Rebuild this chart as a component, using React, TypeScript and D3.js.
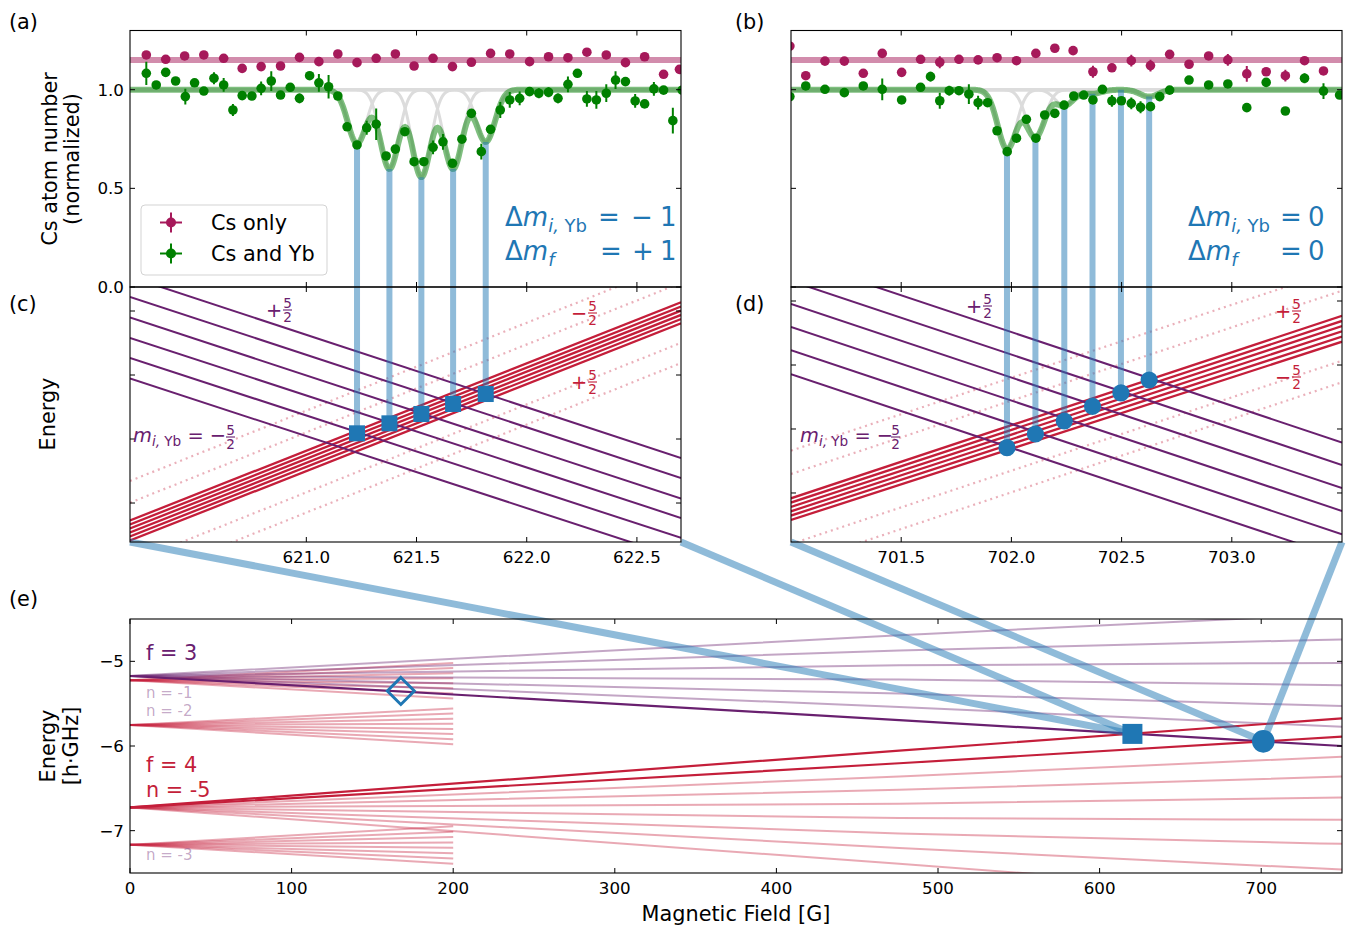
import React from "react";
import * as d3 from "d3";

const FONT = "DejaVu Sans, Verdana, sans-serif";
const PURPLE = "#69206f";
const RED = "#c41e3a";
const MAGENTA = "#a6195a";
const GREEN = "#008000";
const BLUE = "#1f77b4";

// ---------------- data ----------------
// (a) Cs only near 621.5 G : [B (G), N (normalized), err]
const csOnlyA = [
  [620.274, 1.176, 0.01], [620.362, 1.154, 0.01], [620.448, 1.171, 0.01], [620.535, 1.176, 0.01],
  [620.625, 1.159, 0.01], [620.709, 1.108, 0.01], [620.795, 1.117, 0.01], [620.883, 1.12, 0.01],
  [620.969, 1.164, 0.01], [621.057, 1.142, 0.01], [621.143, 1.181, 0.01], [621.23, 1.137, 0.01],
  [621.317, 1.159, 0.01], [621.404, 1.181, 0.01], [621.489, 1.12, 0.01], [621.575, 1.159, 0.01],
  [621.663, 1.117, 0.01], [621.749, 1.139, 0.01], [621.836, 1.184, 0.01], [621.923, 1.181, 0.01],
  [622.013, 1.142, 0.01], [622.099, 1.167, 0.01], [622.187, 1.162, 0.01], [622.273, 1.19, 0.01],
  [622.361, 1.176, 0.01], [622.448, 1.137, 0.01], [622.535, 1.167, 0.01], [622.621, 1.078, 0.01],
  [622.693, 1.103, 0.01],
];

// (a) Cs and Yb
const csYbA = [
  [620.274, 1.083, 0.059], [620.319, 1.024, 0.015], [620.362, 1.088, 0.015], [620.407, 1.044, 0.015],
  [620.451, 0.965, 0.04], [620.493, 1.035, 0.015], [620.535, 0.993, 0.015], [620.581, 1.058, 0.03],
  [620.625, 1.024, 0.035], [620.667, 0.897, 0.03], [620.709, 0.97, 0.015], [620.753, 0.968, 0.015],
  [620.795, 1.007, 0.035], [620.841, 1.044, 0.05], [620.883, 0.973, 0.015], [620.927, 1.012, 0.015],
  [620.969, 0.956, 0.025], [621.015, 1.071, 0.015], [621.057, 1.035, 0.045], [621.101, 1.015, 0.06],
  [621.143, 0.968, 0.015], [621.185, 0.812, 0.015], [621.23, 0.72, 0.015], [621.274, 0.807, 0.035],
  [621.317, 0.825, 0.08], [621.362, 0.664, 0.015], [621.404, 0.699, 0.015], [621.447, 0.787, 0.015],
  [621.489, 0.635, 0.015], [621.533, 0.635, 0.015], [621.575, 0.708, 0.035], [621.62, 0.736, 0.04],
  [621.663, 0.627, 0.015], [621.706, 0.749, 0.015], [621.749, 0.88, 0.015], [621.794, 0.686, 0.04],
  [621.836, 0.799, 0.015], [621.88, 0.897, 0.04], [621.923, 0.948, 0.04], [621.968, 0.956, 0.035],
  [622.013, 0.99, 0.015], [622.055, 0.982, 0.025], [622.099, 0.987, 0.025], [622.142, 0.956, 0.025],
  [622.187, 1.027, 0.04], [622.23, 1.083, 0.015], [622.273, 0.953, 0.04], [622.316, 0.948, 0.045],
  [622.361, 0.982, 0.045], [622.403, 1.049, 0.045], [622.448, 1.041, 0.015], [622.492, 0.943, 0.035],
  [622.535, 0.928, 0.015], [622.577, 1.004, 0.035], [622.621, 0.998, 0.015], [622.663, 0.843, 0.065],
  [622.705, 0.998, 0.015],
];

// (b) Cs only near 702 G
const csOnlyB = [
  [700.995, 1.221, 0.01], [701.067, 1.071, 0.01], [701.154, 1.145, 0.01], [701.242, 1.145, 0.01],
  [701.328, 1.083, 0.01], [701.414, 1.184, 0.01], [701.502, 1.088, 0.01], [701.588, 1.154, 0.01],
  [701.675, 1.139, 0.03], [701.762, 1.154, 0.01], [701.849, 1.151, 0.01], [701.935, 1.162, 0.01],
  [702.023, 1.147, 0.01], [702.111, 1.184, 0.01], [702.197, 1.21, 0.01], [702.28, 1.198, 0.01],
  [702.37, 1.091, 0.03], [702.456, 1.111, 0.01], [702.544, 1.147, 0.03], [702.631, 1.122, 0.03],
  [702.718, 1.179, 0.01], [702.806, 1.129, 0.01], [702.895, 1.171, 0.01], [702.982, 1.151, 0.03],
  [703.068, 1.08, 0.04], [703.156, 1.091, 0.01], [703.243, 1.071, 0.03], [703.33, 1.147, 0.01],
  [703.416, 1.095, 0.01],
];

// (b) Cs and Yb
const csYbB = [
  [700.995, 0.965, 0.015], [701.067, 1.019, 0.015], [701.154, 1.002, 0.015], [701.242, 0.985, 0.015],
  [701.328, 1.019, 0.015], [701.414, 1.002, 0.055], [701.502, 0.948, 0.015], [701.588, 1.012, 0.015],
  [701.633, 1.066, 0.025], [701.675, 0.944, 0.04], [701.718, 0.995, 0.025], [701.762, 0.995, 0.015],
  [701.807, 0.977, 0.05], [701.849, 0.934, 0.035], [701.892, 0.934, 0.015], [701.935, 0.792, 0.015],
  [701.981, 0.686, 0.015], [702.023, 0.754, 0.015], [702.068, 0.85, 0.015], [702.111, 0.754, 0.015],
  [702.151, 0.872, 0.015], [702.197, 0.88, 0.015], [702.239, 0.922, 0.015], [702.283, 0.968, 0.015],
  [702.328, 0.973, 0.015], [702.37, 0.948, 0.015], [702.413, 1.002, 0.015], [702.456, 0.943, 0.03],
  [702.499, 0.944, 0.015], [702.544, 0.931, 0.03], [702.586, 0.911, 0.03], [702.631, 0.914, 0.015],
  [702.673, 0.965, 0.015], [702.718, 0.998, 0.015], [702.806, 1.049, 0.015], [702.895, 1.024, 0.015],
  [702.982, 1.029, 0.015], [703.068, 0.909, 0.015], [703.156, 1.037, 0.015], [703.243, 0.892, 0.015],
  [703.33, 1.058, 0.025], [703.416, 0.993, 0.04], [703.489, 0.973, 0.015],
];

const csOnlyLevel = 1.15;
const fitSigma = 0.042;

// resonances: field, fitted loss amplitude, energy in (c)/(d)
const resFieldA = [621.23, 621.377, 621.522, 621.666, 621.814];
const resAmpA = [0.272, 0.4, 0.441, 0.4, 0.264];
const resEnergyC = [1.089, 1.245, 1.391, 1.547, 1.703];
const resFieldB = [701.98, 702.109, 702.24, 702.368, 702.497, 702.625];
const resAmpB = [0.3, 0.24, 0.08, 0.02, 0.0, 0.035];
const resEnergyD = [0.708, 0.922, 1.125, 1.355, 1.564, 1.766];

// (c) levels: [E at 620.2 G, E at 622.7 G]
const yStatesC = [[3.534, 0.703], [3.22, 0.392], [2.898, 0.07], [2.58, -0.233], [2.267, -0.545], [1.945, -0.867]];
const csStatesC = [[-0.273, 3.136], [-0.336, 3.07], [-0.398, 3.005], [-0.461, 2.939], [-0.523, 2.873], [-0.586, 2.808]];
const dottedC = [[0.344, 3.778], [0.005, 3.439], [-0.933, 2.502], [-1.25, 2.188]];
// (d) levels: [E at 701.0 G, E at 703.5 G]
const yStatesD = [[3.664, 0.789], [3.313, 0.438], [2.953, 0.078], [2.594, -0.281], [2.23, -0.645], [1.855, -1.02]];
const csStatesD = [[-0.083, 2.77], [-0.15, 2.689], [-0.219, 2.608], [-0.286, 2.527], [-0.353, 2.445], [-0.422, 2.364]];
const dottedD = [[0.661, 3.511], [0.297, 3.161], [-0.797, 2.067], [-1.136, 1.73]];

// (e) thresholds, energies at these fields
const levelFields = [0, 476, 750];
const f3Start = -5.173;
const f3Mid = [-4.692, -4.871, -5.047, -5.215, -5.38, -5.538, -5.694];
const f3End = [-4.44, -4.741, -5.02, -5.282, -5.529, -5.773, -6.0];
const f4Start = -6.726;
const f4Mid = [-6.055, -6.204, -6.361, -6.518, -6.682, -6.851, -7.032, -7.204, -7.392];
const f4End = [-5.674, -5.89, -6.126, -6.361, -6.608, -6.871, -7.156, -7.459, -7.78];
const fanFields = [0, 200];
const fanStart = [-5.224, -5.753, -7.165];
const fanEnd = [
  [-5.02, -5.08, -5.14, -5.199, -5.259, -5.319, -5.379, -5.439],
  [-5.556, -5.616, -5.678, -5.738, -5.799, -5.859, -5.919, -5.98],
  [-6.949, -7.013, -7.075, -7.139, -7.202, -7.266, -7.328, -7.392],
];
const crossSquare = [620.3, -5.857];
const crossCircle = [701.3, -5.945];
const openDiamond = [167.6, -5.35];

const ticksA = [621.0, 621.5, 622.0, 622.5];
const ticksB = [701.5, 702.0, 702.5, 703.0];
const ticksN = [0, 0.5, 1.0];
const ticksEnergy = [0, 1, 2, 3];
const ticksFieldE = [0, 100, 200, 300, 400, 500, 600, 700];
const ticksEnergyE = [-7, -6, -5];

// ---------------- scales ----------------
type Sc = d3.ScaleLinear<number, number>;
const xA = d3.scaleLinear().domain([620.2, 622.7]).range([130, 681]);
const xB = d3.scaleLinear().domain([701.0, 703.5]).range([791, 1342]);
const yN = d3.scaleLinear().domain([0, 1.3]).range([287, 30.5]);
const yC = d3.scaleLinear().domain([-0.609, 3.375]).range([542, 287]);
const yD = d3.scaleLinear().domain([-0.766, 3.219]).range([542, 287]);
const xE = d3.scaleLinear().domain([0, 750]).range([130, 1342]);
const yE = d3.scaleLinear().domain([-7.5, -4.5]).range([873, 619]);

const line = d3.line<[number, number]>();
const smooth = d3.line<[number, number]>().curve(d3.curveMonotoneX);

const gauss = (b: number, c: number) => Math.exp(-((b - c) ** 2) / (2 * fitSigma * fitSigma));
const fitValue = (b: number, centers: number[], amps: number[]) =>
  1 - centers.reduce((s, c, k) => s + amps[k] * gauss(b, c), 0);

const fmt1 = d3.format(".1f");
const minus = (v: number) => String(v).replace("-", "\u2212");

function Frame({ x, y, xt, yt, xLab, yLab }: { x: Sc; y: Sc; xt: number[]; yt: number[]; xLab?: (v: number) => string; yLab?: (v: number) => string }) {
  const [x0, x1] = x.range();
  const [y1, y0] = y.range();
  return (
    <g>
      {xt.map((v) => (
        <g key={"x" + v} stroke="#000" strokeWidth={1}>
          <line x1={x(v)} x2={x(v)} y1={y1} y2={y1 - 5} />
          <line x1={x(v)} x2={x(v)} y1={y0} y2={y0 + 5} />
        </g>
      ))}
      {yt.map((v) => (
        <g key={"y" + v} stroke="#000" strokeWidth={1}>
          <line x1={x0} x2={x0 + 5} y1={y(v)} y2={y(v)} />
          <line x1={x1} x2={x1 - 5} y1={y(v)} y2={y(v)} />
        </g>
      ))}
      {xLab && xt.map((v) => (
        <text key={"xl" + v} x={x(v)} y={y1 + 21} textAnchor="middle" fontSize={16.7}>{xLab(v)}</text>
      ))}
      {yLab && yt.map((v) => (
        <text key={"yl" + v} x={x0 - 6} y={y(v) + 6} textAnchor="end" fontSize={16.7}>{yLab(v)}</text>
      ))}
      <rect x={x0} y={y0} width={x1 - x0} height={y1 - y0} fill="none" stroke="#000" strokeWidth={1.1} />
    </g>
  );
}

function Points({ data, x, color }: { data: number[][]; x: Sc; color: string }) {
  return (
    <g>
      {data.map(([b, n, e], i) => (
        <g key={i}>
          <line x1={x(b)} x2={x(b)} y1={yN(n - e)} y2={yN(n + e)} stroke={color} strokeWidth={2} />
          <circle cx={x(b)} cy={yN(n)} r={4.8} fill={color} />
        </g>
      ))}
    </g>
  );
}

function Frac({ x, y, sign, color }: { x: number; y: number; sign: string; color: string }) {
  const bx = x + (sign ? 17 : 0);
  return (
    <g fill={color}>
      {sign && <text x={x} y={y + 6.6} fontSize={19.4}>{sign}</text>}
      <text x={bx + 4.5} y={y - 2} fontSize={13.6} textAnchor="middle">5</text>
      <line x1={bx} x2={bx + 9} y1={y} y2={y} stroke={color} strokeWidth={1.1} />
      <text x={bx + 4.5} y={y + 12} fontSize={13.6} textAnchor="middle">2</text>
    </g>
  );
}

function MLabel({ x, y, fx }: { x: number; y: number; fx: number }) {
  return (
    <g fill={PURPLE}>
      <text x={x} y={y} fontSize={19.4}>
        <tspan fontStyle="italic">m</tspan>
        <tspan fontSize={13.6} dy={4} fontStyle="italic">i,</tspan>
        <tspan fontSize={13.6}> Yb</tspan>
        <tspan dy={-4}> = {"\u2212"}</tspan>
      </text>
      <Frac x={fx} y={y - 5} sign="" color={PURPLE} />
    </g>
  );
}

function DeltaText({ x, y, sub, eqX, rhs }: { x: number; y: number; sub: "iYb" | "f"; eqX: number; rhs: [number, string][] }) {
  return (
    <g fill={BLUE} fontSize={26}>
      <text x={x} y={y}>
        {"\u0394"}
        <tspan fontStyle="italic">m</tspan>
        {sub === "iYb" ? (
          <>
            <tspan fontSize={18} dy={6} fontStyle="italic">i,</tspan>
            <tspan fontSize={18}> Yb</tspan>
          </>
        ) : (
          <tspan fontSize={18} dy={6} fontStyle="italic">f</tspan>
        )}
      </text>
      <text x={eqX} y={y}>=</text>
      {rhs.map(([px, s]) => (
        <text key={px} x={px} y={y}>{s}</text>
      ))}
    </g>
  );
}

function TopPanel({ x, id, cs, yb, centers, amps }: { x: Sc; id: string; cs: number[][]; yb: number[][]; centers: number[]; amps: number[] }) {
  const [d0, d1] = x.domain();
  const samples = d3.range(d0, d1 + 0.002, 0.004);
  return (
    <g clipPath={`url(#${id})`}>
      <line x1={x(d0)} x2={x(d1)} y1={yN(csOnlyLevel)} y2={yN(csOnlyLevel)} stroke={MAGENTA} strokeOpacity={0.5} strokeWidth={6} />
      {centers.map((c, k) => (
        <path key={k} d={line(samples.map((b) => [x(b), yN(1 - amps[k] * gauss(b, c))])) || ""} fill="none" stroke="#dcdcdc" strokeWidth={3} />
      ))}
      <path d={line(samples.map((b) => [x(b), yN(fitValue(b, centers, amps))])) || ""} fill="none" stroke={GREEN} strokeOpacity={0.5} strokeWidth={6} />
    </g>
  );
}

function LevelPanel({ x, y, id, ystates, csstates, dotted }: { x: Sc; y: Sc; id: string; ystates: number[][]; csstates: number[][]; dotted: number[][] }) {
  const [d0, d1] = x.domain();
  const seg = (e: number[]) => line([[x(d0), y(e[0])], [x(d1), y(e[1])]]) || "";
  return (
    <g clipPath={`url(#${id})`} fill="none">
      {dotted.map((e, i) => (
        <path key={"d" + i} d={seg(e)} stroke={RED} strokeOpacity={0.35} strokeWidth={2.2} strokeDasharray="2 4" />
      ))}
      {csstates.map((e, i) => (
        <path key={"c" + i} d={seg(e)} stroke={RED} strokeWidth={2.3} />
      ))}
      {ystates.map((e, i) => (
        <path key={"y" + i} d={seg(e)} stroke={PURPLE} strokeWidth={2} />
      ))}
    </g>
  );
}

export default function App() {
  const [cx0, cx1] = xA.range();
  const [dx0, dx1] = xB.range();
  const cBottom = yC.range()[0];
  const sq = [xE(crossSquare[0]), yE(crossSquare[1])];
  const ci = [xE(crossCircle[0]), yE(crossCircle[1])];
  const di = [xE(openDiamond[0]), yE(openDiamond[1])];
  const lvl = (start: number, mid: number, end: number) =>
    smooth([[xE(levelFields[0]), yE(start)], [xE(levelFields[1]), yE(mid)], [xE(levelFields[2]), yE(end)]]) || "";
  const fan = (start: number, end: number) =>
    line([[xE(fanFields[0]), yE(start)], [xE(fanFields[1]), yE(end)]]) || "";

  return (
    <svg width={1348} height={927} style={{ position: "absolute", left: 0, top: 0, background: "#fff" }} fontFamily={FONT}>
      <defs>
        <clipPath id="clipA"><rect x={130} y={30.5} width={551} height={256.5} /></clipPath>
        <clipPath id="clipB"><rect x={791} y={30.5} width={551} height={256.5} /></clipPath>
        <clipPath id="clipC"><rect x={130} y={287} width={551} height={255} /></clipPath>
        <clipPath id="clipD"><rect x={791} y={287} width={551} height={255} /></clipPath>
        <clipPath id="clipE"><rect x={130} y={619} width={1212} height={254} /></clipPath>
      </defs>
      <rect width={1348} height={927} fill="#fff" />

      {/* panel backgrounds: level diagrams */}
      <TopPanel x={xA} id="clipA" cs={csOnlyA} yb={csYbA} centers={resFieldA} amps={resAmpA} />
      <TopPanel x={xB} id="clipB" cs={csOnlyB} yb={csYbB} centers={resFieldB} amps={resAmpB} />
      <LevelPanel x={xA} y={yC} id="clipC" ystates={yStatesC} csstates={csStatesC} dotted={dottedC} />
      <LevelPanel x={xB} y={yD} id="clipD" ystates={yStatesD} csstates={csStatesD} dotted={dottedD} />

      {/* (e) thresholds */}
      <g clipPath="url(#clipE)" fill="none">
        {fanStart.map((s, i) =>
          fanEnd[i].map((e, j) => (
            <path key={`fan${i}-${j}`} d={fan(s, e)} stroke={RED} strokeOpacity={0.38} strokeWidth={2} />
          ))
        )}
        {f3Mid.slice(0, 6).map((m, i) => (
          <path key={"f3" + i} d={lvl(f3Start, m, f3End[i])} stroke={PURPLE} strokeOpacity={0.4} strokeWidth={2} />
        ))}
        {f4Mid.slice(2).map((m, i) => (
          <path key={"f4" + i} d={lvl(f4Start, m, f4End[i + 2])} stroke={RED} strokeOpacity={0.38} strokeWidth={2} />
        ))}
        <path d={lvl(f3Start, f3Mid[6], f3End[6])} stroke={PURPLE} strokeWidth={2.2} />
        {[0, 1].map((i) => (
          <path key={"f4d" + i} d={lvl(f4Start, f4Mid[i], f4End[i])} stroke={RED} strokeWidth={2.2} />
        ))}
      </g>

      {/* resonance connectors (a)->(c), (b)->(d) */}
      {resFieldA.map((b, k) => (
        <line key={"va" + k} x1={xA(b)} x2={xA(b)} y1={yN(fitValue(b, resFieldA, resAmpA))} y2={yC(resEnergyC[k])} stroke={BLUE} strokeOpacity={0.5} strokeWidth={6} />
      ))}
      {resFieldB.map((b, k) => (
        <line key={"vb" + k} x1={xB(b)} x2={xB(b)} y1={yN(fitValue(b, resFieldB, resAmpB))} y2={yD(resEnergyD[k])} stroke={BLUE} strokeOpacity={0.5} strokeWidth={6} />
      ))}

      {/* data */}
      <g clipPath="url(#clipA)">
        <Points data={csOnlyA} x={xA} color={MAGENTA} />
        <Points data={csYbA} x={xA} color={GREEN} />
      </g>
      <g clipPath="url(#clipB)">
        <Points data={csOnlyB} x={xB} color={MAGENTA} />
        <Points data={csYbB} x={xB} color={GREEN} />
      </g>

      {/* markers in (c), (d) */}
      {resFieldA.map((b, k) => (
        <rect key={"sq" + k} x={xA(b) - 8} y={yC(resEnergyC[k]) - 8} width={16} height={16} fill={BLUE} />
      ))}
      {resFieldB.map((b, k) => (
        <circle key={"ci" + k} cx={xB(b)} cy={yD(resEnergyD[k])} r={8.6} fill={BLUE} />
      ))}

      {/* zoom connectors to (e) */}
      <g stroke={BLUE} strokeOpacity={0.5} strokeWidth={7}>
        <line x1={cx0} y1={cBottom} x2={sq[0]} y2={sq[1]} />
        <line x1={cx1} y1={cBottom} x2={sq[0]} y2={sq[1]} />
        <line x1={dx0} y1={cBottom} x2={ci[0]} y2={ci[1]} />
        <line x1={dx1} y1={cBottom} x2={ci[0]} y2={ci[1]} />
      </g>
      <rect x={sq[0] - 10} y={sq[1] - 10} width={20} height={20} fill={BLUE} />
      <circle cx={ci[0]} cy={ci[1]} r={11.3} fill={BLUE} />
      <path d={`M${di[0]},${di[1] - 13.5}L${di[0] + 13.5},${di[1]}L${di[0]},${di[1] + 13.5}L${di[0] - 13.5},${di[1]}Z`} fill="none" stroke={BLUE} strokeWidth={3} />

      {/* frames */}
      <Frame x={xA} y={yN} xt={ticksA} yt={ticksN} yLab={fmt1} />
      <Frame x={xB} y={yN} xt={ticksB} yt={ticksN} />
      <Frame x={xA} y={yC} xt={ticksA} yt={ticksEnergy} xLab={fmt1} />
      <Frame x={xB} y={yD} xt={ticksB} yt={ticksEnergy} xLab={fmt1} />
      <Frame x={xE} y={yE} xt={ticksFieldE} yt={ticksEnergyE} xLab={(v) => String(v)} yLab={minus} />

      {/* legend */}
      <g>
        <rect x={141} y={205} width={186} height={70} rx={4} fill="#fff" fillOpacity={0.8} stroke="#d3d3d3" strokeWidth={1} />
        {[["Cs only", MAGENTA, 222.5], ["Cs and Yb", GREEN, 253.5]].map(([label, color, yy]) => (
          <g key={label as string}>
            <line x1={160} x2={182} y1={yy as number} y2={yy as number} stroke={color as string} strokeWidth={2} />
            <line x1={171} x2={171} y1={(yy as number) - 10} y2={(yy as number) + 10} stroke={color as string} strokeWidth={2} />
            <circle cx={171} cy={yy as number} r={5} fill={color as string} />
            <text x={211} y={(yy as number) + 7.5} fontSize={20.8}>{label}</text>
          </g>
        ))}
      </g>

      {/* selection rule annotations */}
      <DeltaText x={505} y={226} sub="iYb" eqX={598} rhs={[[631, "\u2212"], [660, "1"]]} />
      <DeltaText x={505} y={260} sub="f" eqX={600} rhs={[[632, "+"], [660, "1"]]} />
      <DeltaText x={1188} y={226} sub="iYb" eqX={1280} rhs={[[1308, "0"]]} />
      <DeltaText x={1188} y={260} sub="f" eqX={1280} rhs={[[1308, "0"]]} />

      {/* level labels in (c), (d) */}
      <Frac x={266} y={310} sign="+" color={PURPLE} />
      <Frac x={571} y={313} sign={"\u2212"} color={RED} />
      <Frac x={571} y={382} sign="+" color={RED} />
      <MLabel x={133} y={442} fx={226} />
      <Frac x={966} y={306} sign="+" color={PURPLE} />
      <Frac x={1275} y={311} sign="+" color={RED} />
      <Frac x={1275} y={377} sign={"\u2212"} color={RED} />
      <MLabel x={800} y={442} fx={891} />

      {/* (e) labels */}
      <text x={146} y={660} fontSize={20.8} fill={PURPLE}>f = 3</text>
      <text x={146} y={698} fontSize={15} fill={PURPLE} fillOpacity={0.4}>n = -1</text>
      <text x={146} y={716} fontSize={15} fill={PURPLE} fillOpacity={0.4}>n = -2</text>
      <text x={146} y={772} fontSize={20.8} fill={RED}>f = 4</text>
      <text x={146} y={797} fontSize={20.8} fill={RED}>n = -5</text>
      <text x={146} y={860} fontSize={15} fill={PURPLE} fillOpacity={0.4}>n = -3</text>

      {/* axis labels */}
      <text transform="translate(57,159) rotate(-90)" textAnchor="middle" fontSize={20.8}>Cs atom number</text>
      <text transform="translate(79,159) rotate(-90)" textAnchor="middle" fontSize={20.8}>(normalized)</text>
      <text transform="translate(55,414) rotate(-90)" textAnchor="middle" fontSize={20.8}>Energy</text>
      <text transform="translate(55,746) rotate(-90)" textAnchor="middle" fontSize={20.8}>Energy</text>
      <text transform="translate(78,746) rotate(-90)" textAnchor="middle" fontSize={20.8}>[h·GHz]</text>
      <text x={736} y={921} textAnchor="middle" fontSize={20.8}>Magnetic Field [G]</text>

      {/* panel tags */}
      <text x={9} y={29} fontSize={20.8}>(a)</text>
      <text x={735} y={29} fontSize={20.8}>(b)</text>
      <text x={9} y={311} fontSize={20.8}>(c)</text>
      <text x={735} y={311} fontSize={20.8}>(d)</text>
      <text x={9} y={606} fontSize={20.8}>(e)</text>
    </svg>
  );
}
